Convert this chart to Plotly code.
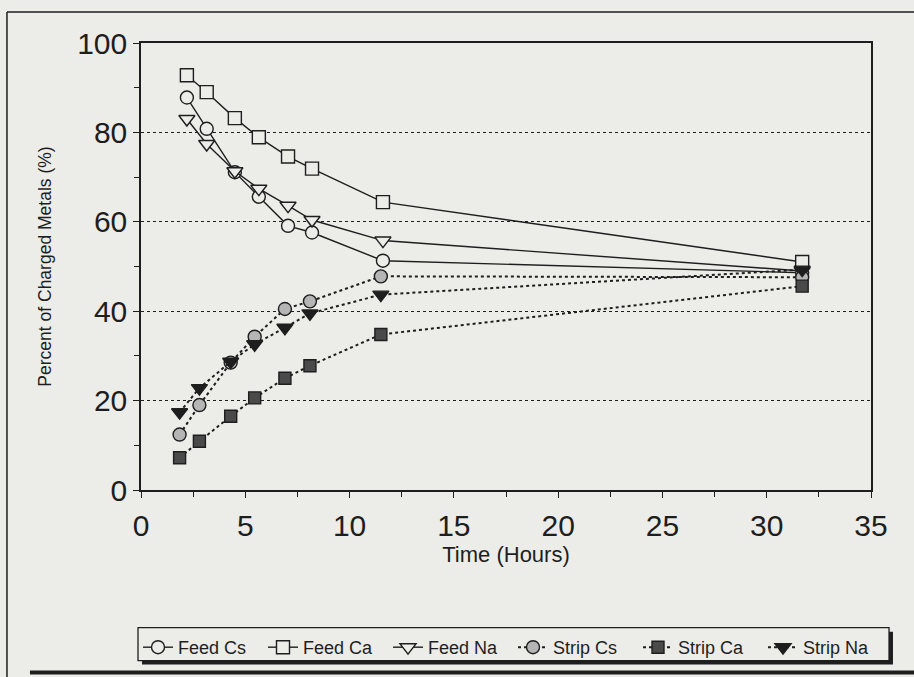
import plotly.graph_objects as go

# Data
time_feed = [2.2, 3.15, 4.5, 5.65, 7.05, 8.2, 11.6, 31.7]
time_strip = [1.85, 2.8, 4.3, 5.45, 6.9, 8.1, 11.5, 31.7]

feed_cs = [87.8, 80.8, 71.1, 65.6, 59.1, 57.6, 51.3, 48.6]
feed_ca = [92.8, 89.0, 83.2, 78.9, 74.6, 71.9, 64.4, 51.0]
feed_na = [83.0, 77.4, 71.3, 67.4, 63.6, 60.4, 55.8, 49.0]
strip_cs = [12.4, 19.0, 28.5, 34.3, 40.5, 42.2, 47.8, 47.6]
strip_ca = [7.2, 10.9, 16.5, 20.6, 25.0, 27.8, 34.8, 45.6]
strip_na = [17.4, 22.8, 28.7, 32.6, 36.3, 39.5, 43.7, 49.3]

x_ticks = [0, 5, 10, 15, 20, 25, 30, 35]
y_ticks = [0, 20, 40, 60, 80, 100]

BG = "#ecece9"
INK = "#1e1e1e"
FONT = "Liberation Sans, Arial, sans-serif"

fig = go.Figure()

def add(name, x, y, symbol, fill, dash, size):
    fig.add_trace(go.Scatter(
        x=x, y=y, name=name, mode="lines+markers",
        line=dict(color=INK, width=1.4 if dash == "solid" else 2.0, dash=dash),
        marker=dict(symbol=symbol, size=size, color=fill,
                    line=dict(color=INK, width=1.4)),
    ))

add("Feed Cs", time_feed, feed_cs, "circle", BG, "solid", 13)
add("Feed Ca", time_feed, feed_ca, "square", BG, "solid", 13)
add("Feed Na", time_feed, feed_na, "triangle-down", BG, "solid", 14)
add("Strip Cs", time_strip, strip_cs, "circle", "#b5b5b5", "dot", 13)
add("Strip Ca", time_strip, strip_ca, "square", "#4a4a4a", "dot", 12)
add("Strip Na", time_strip, strip_na, "triangle-down", INK, "dot", 14)

fig.update_layout(
    width=914, height=677,
    margin=dict(l=141, r=43, t=43, b=186),
    paper_bgcolor=BG, plot_bgcolor=BG,
    font=dict(family=FONT, color=INK),
    showlegend=True,
    legend=dict(
        orientation="h", x=-0.0041, y=-0.3080, xanchor="left", yanchor="top",
        bgcolor="rgba(0,0,0,0)", borderwidth=0,
        font=dict(size=18, family=FONT),
        itemwidth=30, entrywidth=80, tracegroupgap=0,
    ),
    xaxis=dict(
        range=[0, 35], tickvals=x_ticks, ticktext=[str(v) for v in x_ticks],
        showgrid=False, zeroline=False,
        showline=True, linecolor=INK, linewidth=1.5, mirror=True,
        ticks="outside", ticklen=6, tickcolor=INK, tickwidth=1.2,
        minor=dict(dtick=2.5, ticks="outside", ticklen=5, tickcolor=INK),
        tickfont=dict(size=30), ticklabelstandoff=2,
        title=dict(text="Time (Hours)", font=dict(size=22), standoff=3),
    ),
    yaxis=dict(
        range=[0, 100], tickvals=y_ticks, ticktext=[str(v) for v in y_ticks],
        showgrid=True, gridcolor=INK, gridwidth=1, griddash="dot",
        zeroline=False,
        showline=True, linecolor=INK, linewidth=1.5, mirror=True,
        ticks="outside", ticklen=6, tickcolor=INK, tickwidth=1.2,
        minor=dict(dtick=10, ticks="outside", ticklen=5, tickcolor=INK, showgrid=False),
        tickfont=dict(size=30), ticklabelstandoff=0,
        title=dict(text="Percent of Charged Metals (%)", font=dict(size=17.5), standoff=21),
    ),
)

P = dict(xref="paper", yref="paper")
# outer frame lines of the scanned figure
fig.add_shape(type="line", **P, x0=-0.1836, x1=1.06, y0=1.0692, y1=1.0692,
              line=dict(color=INK, width=1.5))
fig.add_shape(type="line", **P, x0=-0.1836, x1=-0.1836, y0=1.0692, y1=-0.42,
              line=dict(color=INK, width=1.5))
fig.add_shape(type="line", **P, x0=-0.1521, x1=1.06, y0=-0.4085, y1=-0.4085,
              line=dict(color=INK, width=4))
# legend box with drop shadow
fig.add_shape(type="rect", **P, x0=0.0014, x1=1.0301, y0=-0.3170, y1=-0.3906,
              fillcolor=INK, line=dict(width=0))
fig.add_shape(type="rect", **P, x0=-0.0041, x1=1.0247, y0=-0.3080, y1=-0.3817,
              fillcolor=BG, line=dict(color=INK, width=1.3))

fig.write_html(
    "out.html",
    config={"displayModeBar": False},
    post_script="document.body.style.margin='0px';document.body.style.background='%s';" % BG,
)
